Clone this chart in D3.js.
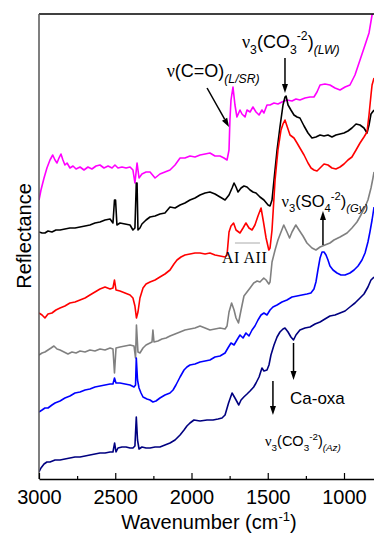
<!DOCTYPE html>
<html><head><meta charset="utf-8">
<script src="https://cdn.jsdelivr.net/npm/d3@7"></script>
<style>
html,body{margin:0;padding:0;background:#fff;}
svg{display:block;font-family:"Liberation Sans",Arial,sans-serif;}
</style></head>
<body>
<svg id="chart" width="374" height="535"></svg>
<script>
// ---- data: [wavenumber (cm-1), offset reflectance (a.u.)] ----
const xTicksMajor = [3000, 2500, 2000, 1500, 1000];
const xTicksMinor = [2750, 2250, 1750, 1250];

const magentaSeries = [[3000,279],[2987,289],[2967,301],[2948,311],[2928,319],[2910,324],[2895,319],[2882,316],[2869,321],[2856,325],[2843,319],[2830,314],[2816,316],[2797,311],[2777,313],[2757,310],[2731,312],[2705,309],[2679,312],[2653,310],[2626,313],[2600,314],[2574,311],[2547,313],[2521,311],[2502,314],[2482,311],[2456,312],[2429,311],[2403,312],[2384,309],[2371,296],[2357,316],[2344,301],[2325,305],[2298,307],[2272,307],[2239,301],[2207,305],[2174,307],[2141,309],[2108,314],[2075,321],[2043,321],[2010,323],[1977,322],[1944,324],[1911,325],[1879,326],[1846,323],[1813,323],[1787,321],[1767,319],[1754,329],[1748,359],[1741,379],[1728,392],[1715,374],[1702,362],[1682,369],[1669,365],[1649,362],[1636,369],[1616,367],[1597,372],[1577,367],[1557,364],[1538,369],[1525,366],[1505,374],[1485,374],[1459,376],[1433,375],[1407,377],[1374,379],[1341,378],[1315,380],[1289,379],[1256,381],[1223,382],[1197,382],[1177,387],[1157,394],[1125,395],[1092,394],[1059,391],[1026,389],[993,392],[961,394],[928,404],[895,419],[862,434],[836,446],[816,464],[803,471]];

const blackSeries = [[3000,247],[2980,246],[2961,246],[2941,248],[2915,247],[2889,249],[2862,249],[2830,250],[2797,251],[2764,251],[2731,252],[2698,253],[2666,254],[2633,256],[2600,257],[2567,259],[2534,260],[2515,256],[2505,279],[2498,279],[2489,254],[2469,256],[2436,255],[2403,254],[2384,249],[2371,251],[2362,296],[2357,296],[2351,249],[2338,251],[2325,255],[2298,259],[2272,262],[2239,263],[2207,265],[2174,266],[2141,272],[2108,271],[2075,274],[2043,276],[2010,279],[1977,281],[1944,284],[1911,286],[1879,287],[1846,285],[1813,282],[1780,279],[1754,284],[1734,291],[1721,296],[1708,292],[1695,287],[1675,291],[1656,293],[1636,292],[1616,289],[1597,287],[1577,286],[1551,282],[1525,279],[1498,274],[1485,273],[1472,279],[1459,299],[1439,329],[1420,352],[1400,374],[1387,382],[1380,383],[1367,374],[1348,369],[1328,364],[1308,362],[1289,361],[1262,353],[1236,346],[1210,341],[1184,342],[1157,344],[1131,343],[1105,344],[1079,342],[1053,344],[1026,345],[1000,346],[974,348],[948,351],[921,355],[895,354],[869,351],[849,346],[836,354],[823,365],[803,369]];

const redSeries = [[3000,166],[2980,164],[2961,161],[2941,165],[2915,166],[2889,169],[2862,171],[2830,173],[2797,176],[2764,177],[2731,179],[2698,181],[2666,184],[2633,187],[2600,190],[2567,192],[2534,190],[2515,191],[2505,199],[2495,189],[2469,188],[2436,186],[2403,184],[2384,181],[2371,173],[2361,161],[2351,167],[2338,181],[2318,191],[2298,195],[2272,197],[2239,199],[2207,202],[2174,205],[2141,209],[2115,215],[2095,219],[2069,222],[2043,224],[2010,225],[1977,226],[1944,226],[1911,225],[1879,226],[1846,224],[1813,223],[1780,222],[1767,224],[1754,247],[1741,253],[1724,256],[1708,249],[1682,246],[1662,251],[1643,256],[1623,251],[1603,249],[1584,254],[1564,263],[1544,271],[1528,257],[1511,241],[1493,229],[1485,231],[1472,249],[1452,299],[1433,329],[1413,349],[1400,355],[1387,359],[1374,353],[1354,344],[1328,341],[1308,336],[1289,331],[1262,324],[1236,316],[1216,311],[1197,309],[1177,308],[1157,311],[1131,315],[1105,314],[1079,311],[1053,310],[1026,312],[1000,315],[974,319],[948,322],[921,329],[895,336],[869,342],[849,347],[836,364],[823,384],[816,394],[803,401]];

const graySeries = [[3000,124],[2980,126],[2961,127],[2941,129],[2921,131],[2902,133],[2882,130],[2862,129],[2836,127],[2810,125],[2784,127],[2757,126],[2731,128],[2698,127],[2666,129],[2633,128],[2600,130],[2567,129],[2534,131],[2515,130],[2505,106],[2495,131],[2469,132],[2436,133],[2403,134],[2377,133],[2367,121],[2361,154],[2351,127],[2338,126],[2318,131],[2298,134],[2272,136],[2259,137],[2253,149],[2246,137],[2220,138],[2194,140],[2167,141],[2141,143],[2108,145],[2075,147],[2043,149],[2010,150],[1977,151],[1944,153],[1911,151],[1879,149],[1846,150],[1813,151],[1780,150],[1767,153],[1754,167],[1737,176],[1721,169],[1708,161],[1692,156],[1675,169],[1656,183],[1636,187],[1616,191],[1592,196],[1570,198],[1551,197],[1526,201],[1511,199],[1493,195],[1485,197],[1472,217],[1452,229],[1433,239],[1413,247],[1395,254],[1374,247],[1357,241],[1341,247],[1316,254],[1295,249],[1269,243],[1243,236],[1210,231],[1184,229],[1157,232],[1125,234],[1092,236],[1066,239],[1026,242],[980,246],[948,251],[915,257],[889,264],[862,272],[843,279],[823,291],[810,301],[803,307]];

const blueSeries = [[3000,67],[2980,69],[2961,71],[2941,71],[2915,74],[2895,76],[2862,78],[2830,81],[2797,83],[2764,86],[2731,87],[2698,89],[2666,90],[2633,92],[2600,93],[2567,94],[2534,95],[2515,95],[2505,101],[2495,96],[2469,96],[2436,95],[2403,94],[2377,92],[2367,94],[2362,121],[2354,99],[2344,91],[2331,86],[2318,82],[2292,80],[2272,79],[2253,77],[2233,78],[2207,81],[2174,84],[2141,86],[2121,89],[2102,94],[2075,102],[2049,109],[2030,112],[2010,114],[1977,115],[1944,117],[1911,118],[1879,119],[1846,122],[1813,123],[1780,126],[1761,131],[1741,136],[1721,134],[1702,139],[1682,144],[1662,141],[1643,146],[1623,143],[1603,149],[1584,153],[1564,159],[1544,164],[1525,166],[1505,164],[1485,169],[1466,172],[1439,174],[1407,177],[1374,179],[1341,182],[1308,183],[1276,184],[1243,185],[1217,186],[1197,190],[1184,197],[1171,209],[1157,221],[1144,227],[1131,227],[1118,224],[1105,219],[1092,213],[1072,209],[1046,206],[1020,204],[993,204],[961,206],[934,209],[908,213],[882,219],[862,226],[843,237],[830,247],[816,259],[803,272]];

const navySeries = [[3000,7],[2987,11],[2967,15],[2948,17],[2928,17],[2895,19],[2862,19],[2830,20],[2797,21],[2764,22],[2731,22],[2698,23],[2666,24],[2633,25],[2600,26],[2567,26],[2534,27],[2515,27],[2504,36],[2495,27],[2482,31],[2456,32],[2429,32],[2403,31],[2384,31],[2371,33],[2362,62],[2354,39],[2344,30],[2325,32],[2298,31],[2272,31],[2239,32],[2207,32],[2174,34],[2141,36],[2108,39],[2075,44],[2049,49],[2030,53],[2010,56],[1984,59],[1944,58],[1898,59],[1859,59],[1826,60],[1800,61],[1780,64],[1757,76],[1734,86],[1715,81],[1690,74],[1675,79],[1657,82],[1636,85],[1616,88],[1592,92],[1577,96],[1557,102],[1538,111],[1525,108],[1505,109],[1492,114],[1479,124],[1459,134],[1439,142],[1420,147],[1400,150],[1387,151],[1367,147],[1348,142],[1331,139],[1315,144],[1289,149],[1256,151],[1223,152],[1190,155],[1157,157],[1125,160],[1092,163],[1059,164],[1026,166],[993,168],[961,172],[928,176],[895,181],[869,185],[843,192],[823,199],[803,202]];

const seriesList = [
  {data: magentaSeries, color: "#ff00ff"},
  {data: blackSeries, color: "#000000"},
  {data: redSeries, color: "#ff0000"},
  {data: graySeries, color: "#808080"},
  {data: blueSeries, color: "#0000ff"},
  {data: navySeries, color: "#000080"}
];

// ---- layout ----
const svg = d3.select("#chart");
const L = 39, R = 374.5, T = 14, B = 479;
const x = d3.scaleLinear().domain([3000, 800]).range([L, R]);
const y = d3.scaleLinear().domain([0, 465]).range([B, T]);

svg.append("defs").append("clipPath").attr("id", "plotclip")
  .append("rect").attr("x", L).attr("y", T).attr("width", R - L).attr("height", B - T);

const line = d3.line().x(d => x(d[0])).y(d => y(d[1]));
const gLines = svg.append("g").attr("clip-path", "url(#plotclip)");
seriesList.forEach(s => {
  gLines.append("path").datum(s.data).attr("d", line)
    .attr("fill", "none").attr("stroke", s.color)
    .attr("stroke-width", 1.6).attr("stroke-linejoin", "round");
});

// frame
svg.append("line").attr("x1", L).attr("x2", R + 2).attr("y1", T).attr("y2", T)
  .attr("stroke", "#000").attr("stroke-width", 1.5);
svg.append("line").attr("x1", L).attr("x2", L).attr("y1", T).attr("y2", B)
  .attr("stroke", "#555").attr("stroke-width", 1.5);

// x axis
const ax = svg.append("g").attr("transform", `translate(0,${B})`)
  .call(d3.axisBottom(x).tickValues(xTicksMajor).tickFormat(d3.format("d"))
    .tickSize(-6).tickSizeOuter(0).tickPadding(11));
ax.select(".domain").attr("stroke", "#000").attr("stroke-width", 1.5);
ax.selectAll(".tick line").attr("stroke", "#000").attr("stroke-width", 1.2);
ax.selectAll(".tick text").attr("fill", "#000")
  .style("font-size", "20px").style("font-family", "Liberation Sans, Arial, sans-serif");
const axm = svg.append("g").attr("transform", `translate(0,${B})`)
  .call(d3.axisBottom(x).tickValues(xTicksMinor).tickFormat("").tickSize(-3).tickSizeOuter(0));
axm.select(".domain").remove();
axm.selectAll(".tick line").attr("stroke", "#000").attr("stroke-width", 1.2);

// axis titles
const xt = svg.append("text").attr("x", 209).attr("y", 529).attr("text-anchor", "middle")
  .style("font-size", "20px");
xt.append("tspan").text("Wavenumber (cm");
xt.append("tspan").attr("dy", -8).style("font-size", "13px").text("-1");
xt.append("tspan").attr("dy", 8).text(")");

svg.append("text").attr("transform", "translate(31,236) rotate(-90)")
  .attr("text-anchor", "middle").style("font-size", "20px").text("Reflectance");

// ---- annotations ----
function rich(px, py, segs, base) {
  const t = svg.append("text").attr("x", px).attr("y", py).style("font-size", base + "px").attr("fill", "#000");
  let cur = 0;
  segs.forEach(s => {
    const target = s.s === "sub" ? base * 0.32 : s.s === "sup" ? -base * 0.42 : 0;
    const ts = t.append("tspan").attr("dy", target - cur).text(s.t);
    cur = target;
    if (s.s) ts.style("font-size", (base * 0.68) + "px");
    if (s.i) ts.style("font-style", "italic");
    if (s.f) ts.style("font-family", s.f);
  });
  return t;
}
const serif = "Liberation Serif, Times New Roman, serif";

function arrow(wn, v1, v2) {
  const x0 = x(wn), ya = y(v1), yb = y(v2);
  const dir = yb > ya ? 1 : -1;
  svg.append("line").attr("x1", x0).attr("x2", x0).attr("y1", ya).attr("y2", yb - dir * 7)
    .attr("stroke", "#000").attr("stroke-width", 1.5);
  svg.append("path").attr("d", `M${x0 - 3},${yb - dir * 9} L${x0 + 3},${yb - dir * 9} L${x0},${yb} Z`).attr("fill", "#000");
}
function arrowXY(w1, v1, w2, v2) {
  const xa = x(w1), ya = y(v1), xb = x(w2), yb = y(v2);
  const ang = Math.atan2(yb - ya, xb - xa);
  const len = 9, hw = 3;
  const bx = xb - len * Math.cos(ang), by = yb - len * Math.sin(ang);
  svg.append("line").attr("x1", xa).attr("y1", ya).attr("x2", bx).attr("y2", by)
    .attr("stroke", "#000").attr("stroke-width", 1.5);
  svg.append("path").attr("d",
    `M${bx - hw * Math.sin(ang)},${by + hw * Math.cos(ang)} L${bx + hw * Math.sin(ang)},${by - hw * Math.cos(ang)} L${xb},${yb} Z`)
    .attr("fill", "#000");
}

// ν(C=O)(L/SR)
rich(x(2163), y(402), [{t: "ν", f: serif}, {t: "(C=O)"}, {t: "(L/SR)", s: "sub", i: true}], 18);
arrowXY(1898, 391, 1754, 352);

// ν3(CO3-2)(LW)
rich(x(1669), y(431), [{t: "ν", f: serif}, {t: "3", s: "sub"}, {t: "(CO"}, {t: "3", s: "sub"}, {t: "-2", s: "sup"}, {t: ")"}, {t: "(LW)", s: "sub", i: true}], 18);
arrow(1387, 421, 386);

// ν3(SO4-2)(Gy)
rich(x(1410), y(272), [{t: "ν", f: serif}, {t: "3", s: "sub"}, {t: "(SO"}, {t: "4", s: "sub"}, {t: "-2", s: "sup"}, {t: ")"}, {t: "(Gy)", s: "sub", i: true}], 16.5);
arrow(1138, 234, 268);

// AI AII
svg.append("line").attr("x1", x(1715)).attr("x2", x(1551)).attr("y1", y(236)).attr("y2", y(236))
  .attr("stroke", "#aaa").attr("stroke-width", 1);
svg.append("text").attr("x", x(1800)).attr("y", y(216)).style("font-family", serif)
  .style("font-size", "16px").attr("letter-spacing", "0.5").text("AI AII");

// Ca-oxa
svg.append("text").attr("x", x(1354)).attr("y", y(75)).style("font-size", "17px").text("Ca-oxa");
arrow(1331, 136, 99);

// ν3(CO3-2)(Az)
rich(x(1518), y(33), [{t: "ν", f: serif}, {t: "3", s: "sub"}, {t: "(CO"}, {t: "3", s: "sub"}, {t: "-2", s: "sup"}, {t: ")"}, {t: "(Az)", s: "sub", i: true}], 14.5);
arrow(1466, 98, 64);
</script>
</body></html>
